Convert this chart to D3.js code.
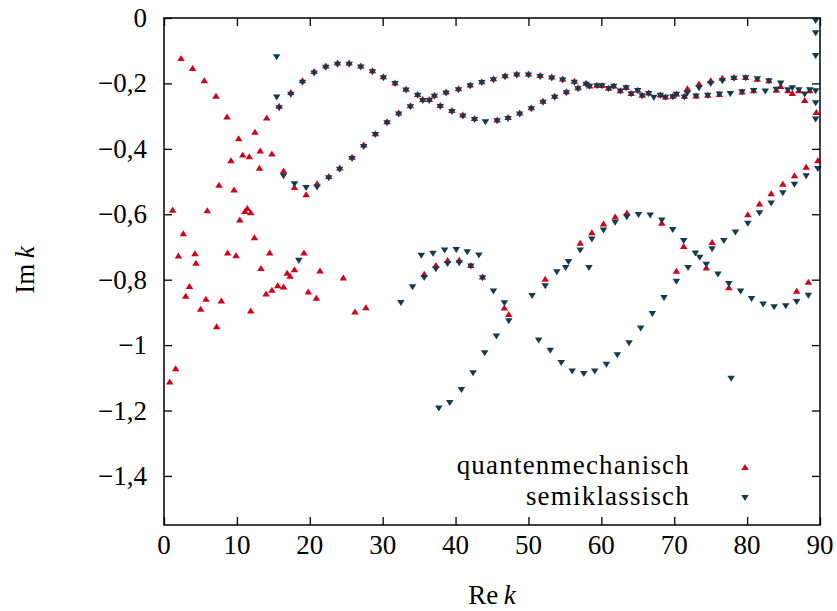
<!DOCTYPE html>
<html><head><meta charset="utf-8">
<script src="https://cdn.jsdelivr.net/npm/d3@7"></script>
<style>
html,body{margin:0;padding:0;background:#fff;}
svg text{font-family:"Liberation Serif","Times New Roman",serif;fill:#000;}
</style></head>
<body><svg id="chart" width="837" height="611"></svg>
<script>
// ---- data (Re k, Im k) ----
const quantRe = [0.78,1.19,1.6,1.98,2.33,2.65,2.98,3.5,3.93,4.25,4.39,5.03,5.53,5.76,5.94,7.13,7.22,7.55,7.86,8.64,8.73,9.19,9.6,9.88,10.24,10.4,10.8,11.1,11.43,11.7,11.9,11.9,12.4,12.48,13.1,13.2,13.3,14.0,14.1,14.5,14.8,14.8,15.6,15.8,16.4,16.4,16.9,17.3,17.4,17.9,17.9,19.0,19.2,19.5,19.8,20.6,20.9,21.0,21.4,22.2,22.6,23.8,24.1,24.6,25.4,25.8,26.2,27.0,27.4,27.7,28.6,29.0,30.1,30.6,31.7,32.2,33.2,33.8,34.8,35.5,35.7,36.4,37.1,37.3,37.9,38.7,38.9,39.5,40.4,40.5,41.0,42.0,42.1,42.6,43.6,43.7,45.2,45.7,46.7,46.8,47.2,47.3,48.4,48.8,50.0,50.4,51.6,52.0,52.3,53.2,53.6,54.7,55.2,56.3,56.8,57.1,57.9,58.4,58.7,59.4,60.1,60.3,61.0,61.7,61.9,62.6,63.4,63.5,64.1,65.0,65.6,66.5,68.1,68.3,68.8,69.8,70.3,70.3,71.3,71.4,71.8,73.0,73.4,74.4,74.6,75.0,75.2,76.2,76.6,77.5,78.2,79.3,79.8,80.1,80.9,81.4,81.7,83.0,83.3,84.0,84.6,84.9,85.6,86.2,86.5,86.8,87.1,87.9,88.1,88.4,88.6,89.5,89.7];
const quantIm = [-1.111,-0.586,-1.071,-0.726,-0.122,-0.658,-0.849,-0.819,-0.153,-0.719,-0.748,-0.889,-0.19,-0.858,-0.588,-0.238,-0.942,-0.51,-0.864,-0.301,-0.717,-0.435,-0.524,-0.725,-0.368,-0.616,-0.417,-0.59,-0.581,-0.423,-0.594,-0.894,-0.67,-0.348,-0.458,-0.405,-0.764,-0.842,-0.304,-0.717,-0.414,-0.831,-0.817,-0.268,-0.466,-0.821,-0.779,-0.788,-0.226,-0.517,-0.768,-0.19,-0.717,-0.539,-0.836,-0.162,-0.855,-0.505,-0.772,-0.145,-0.483,-0.136,-0.457,-0.793,-0.136,-0.424,-0.897,-0.145,-0.387,-0.884,-0.16,-0.352,-0.178,-0.316,-0.197,-0.289,-0.216,-0.267,-0.232,-0.248,-0.782,-0.248,-0.235,-0.755,-0.266,-0.225,-0.74,-0.281,-0.215,-0.739,-0.295,-0.203,-0.755,-0.306,-0.193,-0.79,-0.184,-0.31,-0.885,-0.175,-0.303,-0.905,-0.17,-0.289,-0.17,-0.273,-0.174,-0.253,-0.797,-0.179,-0.238,-0.185,-0.224,-0.192,-0.212,-0.687,-0.198,-0.206,-0.655,-0.204,-0.205,-0.628,-0.213,-0.206,-0.607,-0.221,-0.211,-0.595,-0.229,-0.219,-0.235,-0.228,-0.234,-0.626,-0.24,-0.238,-0.231,-0.773,-0.697,-0.238,-0.215,-0.237,-0.2,-0.763,-0.235,-0.19,-0.685,-0.232,-0.183,-0.823,-0.18,-0.225,-0.18,-0.6,-0.221,-0.186,-0.567,-0.19,-0.536,-0.219,-0.208,-0.507,-0.221,-0.229,-0.481,-0.834,-0.221,-0.251,-0.455,-0.806,-0.221,-0.287,-0.435];
const semiRe = [15.46,15.46,15.8,16.4,17.4,17.9,18.5,19.0,19.5,20.6,21.0,22.2,22.6,23.8,24.1,25.4,25.8,27.0,27.4,28.6,29.0,30.1,30.6,31.7,32.2,32.5,33.2,33.8,34.1,34.8,35.3,35.5,35.7,36.4,36.9,37.1,37.3,37.7,37.9,38.5,38.7,38.9,39.2,39.5,40.1,40.4,40.5,40.8,41.0,41.6,42.0,42.1,42.4,42.6,43.2,43.6,43.7,44.0,44.1,45.2,45.2,45.6,45.7,46.7,46.8,47.2,47.3,48.4,48.8,50.0,50.4,50.5,51.4,51.6,52.0,52.3,53.0,53.2,53.6,53.9,54.5,54.7,55.1,55.2,55.5,56.0,56.3,56.8,57.1,57.6,57.9,58.3,58.4,58.7,59.1,59.4,60.1,60.3,60.7,61.0,61.7,61.9,62.2,62.6,63.4,63.5,63.8,64.1,65.0,65.1,65.4,65.6,66.5,66.7,67.0,67.2,68.1,68.3,68.6,68.8,69.8,69.8,70.3,70.3,71.3,71.4,71.8,71.9,72.9,73.0,73.4,73.5,74.4,74.6,75.0,75.2,76.0,76.2,76.6,76.8,77.5,77.7,77.8,78.2,78.4,79.1,79.3,79.8,80.1,80.6,80.9,81.4,81.7,82.2,82.5,83.0,83.3,83.7,84.0,84.6,84.9,85.3,85.6,86.2,86.5,86.8,87.1,87.9,88.1,88.4,88.6,89.4,89.4,89.4,89.4,89.4,89.4,89.7];
const semiIm = [-0.12,-0.243,-0.276,-0.484,-0.235,-0.508,-0.742,-0.198,-0.52,-0.17,-0.518,-0.152,-0.49,-0.143,-0.464,-0.143,-0.431,-0.151,-0.394,-0.166,-0.358,-0.184,-0.322,-0.202,-0.295,-0.871,-0.222,-0.273,-0.823,-0.238,-0.727,-0.254,-0.795,-0.254,-0.721,-0.241,-0.768,-1.194,-0.272,-0.711,-0.231,-0.752,-1.177,-0.287,-0.709,-0.221,-0.75,-1.137,-0.301,-0.716,-0.209,-0.76,-1.086,-0.312,-0.726,-0.199,-0.796,-1.025,-0.319,-0.19,-0.836,-0.974,-0.316,-0.872,-0.181,-0.309,-0.927,-0.176,-0.295,-0.176,-0.279,-0.85,-0.986,-0.18,-0.259,-0.82,-1.017,-0.185,-0.244,-0.777,-1.055,-0.191,-0.764,-0.23,-0.746,-1.081,-0.198,-0.218,-0.711,-1.088,-0.204,-0.764,-0.21,-0.677,-1.081,-0.209,-0.209,-0.65,-1.06,-0.217,-0.21,-0.626,-1.031,-0.225,-0.215,-0.609,-0.994,-0.233,-0.223,-0.602,-0.949,-0.239,-0.232,-0.604,-0.905,-0.244,-0.238,-0.619,-0.856,-0.244,-0.648,-0.242,-0.235,-0.806,-0.682,-0.243,-0.231,-0.764,-0.72,-0.24,-0.215,-0.733,-0.754,-0.238,-0.202,-0.707,-0.784,-0.234,-0.193,-0.682,-0.813,-0.232,-1.103,-0.186,-0.656,-0.836,-0.227,-0.184,-0.629,-0.859,-0.223,-0.187,-0.597,-0.876,-0.225,-0.193,-0.567,-0.884,-0.219,-0.2,-0.536,-0.881,-0.221,-0.215,-0.51,-0.868,-0.221,-0.234,-0.484,-0.849,-0.221,-0.009,-0.047,-0.116,-0.224,-0.261,-0.31,-0.462];
const xTicks = [0,10,20,30,40,50,60,70,80,90];
const yTicks = [0,-0.2,-0.4,-0.6,-0.8,-1,-1.2,-1.4];
const seriesNames = ["quantenmechanisch","semiklassisch"];
const seriesColors = ["#d0021b","#133a4e"];

// ---- layout ----
const L = 164, R = 820, T = 18, B = 525;
const x = d3.scaleLinear().domain([0, 90]).range([L, R]);
const y = d3.scaleLinear().domain([-1.55, 0]).range([B, T]);
const svg = d3.select("#chart");
const FS = 27;

const fmt = v => v === 0 ? "0" : (v < 0 ? "\u2212" : "") + String(Math.abs(v)).replace(".", ",");

// ticks on all four sides, pointing inward
const tl = 8;
const g = svg.append("g");
const bottomAxis = d3.axisBottom(x).tickValues(xTicks).tickSize(-tl).tickFormat("");
const topAxis = d3.axisTop(x).tickValues(xTicks).tickSize(-tl).tickFormat("");
const leftAxis = d3.axisLeft(y).tickValues(yTicks).tickSize(-tl).tickFormat("");
const rightAxis = d3.axisRight(y).tickValues(yTicks).tickSize(-tl).tickFormat("");
g.append("g").attr("transform", `translate(0,${B})`).call(bottomAxis);
g.append("g").attr("transform", `translate(0,${T})`).call(topAxis);
g.append("g").attr("transform", `translate(${L},0)`).call(leftAxis);
g.append("g").attr("transform", `translate(${R},0)`).call(rightAxis);
g.selectAll(".domain").remove();
g.selectAll(".tick line").attr("stroke", "#000").attr("stroke-width", 1.3);

// tick labels
svg.append("g").selectAll("text").data(xTicks).join("text")
  .attr("x", d => x(d)).attr("y", B + 29).attr("text-anchor", "middle")
  .attr("font-size", FS).text(d => d);
svg.append("g").selectAll("text").data(yTicks).join("text")
  .attr("x", L - 17).attr("y", d => y(d) + 9).attr("text-anchor", "end")
  .attr("font-size", FS).text(fmt);

// axis titles
const xt = svg.append("text").attr("x", 492).attr("y", 604).attr("text-anchor", "middle").attr("font-size", FS);
xt.append("tspan").text("Re\u2009");
xt.append("tspan").attr("font-style", "italic").text("k");
const yt = svg.append("text").attr("transform", "translate(34,270) rotate(-90)").attr("text-anchor", "middle").attr("font-size", FS);
yt.append("tspan").text("Im\u2009");
yt.append("tspan").attr("font-style", "italic").text("k");

// markers
const W = 7.5, H = 6;
const up = (cx, cy) => `M${cx - W/2},${cy + H/2}L${cx + W/2},${cy + H/2}L${cx},${cy - H/2}Z`;
const down = (cx, cy) => `M${cx - W/2},${cy - H/2}L${cx + W/2},${cy - H/2}L${cx},${cy + H/2}Z`;

const clipId = "plotclip";
svg.append("clipPath").attr("id", clipId).append("rect").attr("x", L - 4).attr("y", T - 4).attr("width", R - L + 8).attr("height", B - T + 8);
const pts = svg.append("g").attr("clip-path", `url(#${clipId})`);
pts.append("g").selectAll("path").data(d3.range(quantRe.length)).join("path")
  .attr("d", i => up(x(quantRe[i]), y(quantIm[i]))).attr("fill", seriesColors[0]);
pts.append("g").selectAll("path").data(d3.range(semiRe.length)).join("path")
  .attr("d", i => down(x(semiRe[i]), y(semiIm[i]))).attr("fill", seriesColors[1]);

// frame
svg.append("rect").attr("x", L).attr("y", T).attr("width", R - L).attr("height", B - T)
  .attr("fill", "none").attr("stroke", "#000").attr("stroke-width", 1.5);

// legend
const leg = svg.append("g");
const legY = [467, 498];
seriesNames.forEach((n, i) => {
  leg.append("text").attr("x", 690).attr("y", legY[i] + 7).attr("text-anchor", "end")
    .attr("font-size", FS).attr("letter-spacing", 1.2).text(n);
  leg.append("path").attr("d", i === 0 ? up(745, legY[i]) : down(745, legY[i])).attr("fill", seriesColors[i]);
});
</script></body></html>
